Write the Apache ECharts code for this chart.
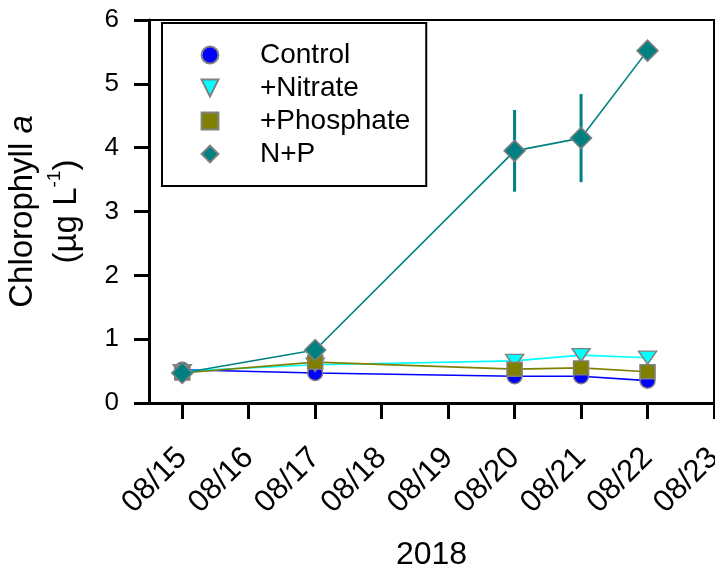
<!DOCTYPE html>
<html><head><meta charset="utf-8">
<script src="https://cdn.jsdelivr.net/npm/echarts@6/dist/echarts.min.js"></script>
<style>html,body{margin:0;padding:0;background:#fff}#c{width:715px;height:573px}</style>
</head><body><div id="c"></div>
<script>
const dates = ['08/15', '08/17', '08/20', '08/21', '08/22'];
const tickLabels = ['08/15', '08/16', '08/17', '08/18', '08/19', '08/20', '08/21', '08/22', '08/23'];
const yTicks = [0, 1, 2, 3, 4, 5, 6];
const control = [0.52, 0.47, 0.42, 0.42, 0.35];
const nitrate = [0.50, 0.60, 0.66, 0.75, 0.71];
const phosphate = [0.47, 0.64, 0.53, 0.55, 0.49];
const np = [0.47, 0.83, 3.95, 4.15, 5.52];
const npErr = [0, 0, 0.64, 0.69, 0];

const FONT = '"Liberation Sans", Arial, sans-serif';
const dayIdx = d => parseInt(d.split('/')[1], 10) - 15;
const tickIdx = tickLabels.map(dayIdx);
const pts = arr => dates.map((d, i) => [dayIdx(d), arr[i]]);
const GRAY = '#808080';

const chart = echarts.init(document.getElementById('c'), null, {renderer: 'canvas'});
function mk(name, arr, color, symbol, size) {
  return {
    name, type: 'line', data: pts(arr), symbol, symbolSize: size,
    lineStyle: {color, width: 1.6},
    itemStyle: {color, borderColor: GRAY, borderWidth: 1.5},
    emphasis: {disabled: true}, animation: false
  };
}
const option = {
  animation: false,
  grid: {left: 149, top: 20, right: 1, bottom: 170, show: true, borderColor: '#000', borderWidth: 2,
    containLabel: false, outerBoundsMode: 'none'},
  legend: {
    orient: 'vertical', left: 162, top: 23,
    padding: [18, 16, 18, 3],
    borderColor: '#000', borderWidth: 2,
    itemWidth: 90, itemHeight: 21, itemGap: 5,
    lineStyle: {width: 0},
    textStyle: {fontFamily: FONT, fontSize: 28, color: '#000'},
    data: ['Control', '+Nitrate', '+Phosphate', 'N+P']
  },
  xAxis: {
    type: 'value', min: -0.5, max: 8,
    name: '2018', nameLocation: 'middle', nameGap: 136,
    nameTextStyle: {fontFamily: FONT, fontSize: 32, color: '#000'},
    axisLine: {onZero: false, lineStyle: {color: '#000', width: 3}},
    axisTick: {customValues: tickIdx, length: 16, lineStyle: {color: '#000', width: 3}},
    axisLabel: {customValues: tickIdx, rotate: 45, margin: 50, fontFamily: FONT, fontSize: 31, color: '#000',
      formatter: v => tickLabels[tickIdx.indexOf(Math.round(v))] || ''},
    splitLine: {show: false}
  },
  yAxis: {
    type: 'value', min: 0, max: 6, interval: 1,
    name: '{t|Chlorophyll }{i|a}\n{t|(µg L}{s|-1}{t|)}',
    nameLocation: 'middle', nameRotate: 90, nameGap: 60,
    nameTextStyle: {fontFamily: FONT, fontSize: 33, color: '#000', lineHeight: 44,
      rich: {
        t: {fontFamily: FONT, fontSize: 33, color: '#000', lineHeight: 44},
        i: {fontFamily: FONT, fontSize: 33, color: '#000', fontStyle: 'italic', lineHeight: 44},
        s: {fontFamily: FONT, fontSize: 19, color: '#000', verticalAlign: 'top', lineHeight: 30}
      }},
    axisLine: {show: true, onZero: false, lineStyle: {color: '#000', width: 3}},
    axisTick: {length: 15, lineStyle: {color: '#000', width: 3}},
    axisLabel: {margin: 30, fontFamily: FONT, fontSize: 26, color: '#000',
      formatter: v => String(yTicks[yTicks.indexOf(v)])},
    splitLine: {show: false}
  },
  series: [
    mk('Control', control, '#0000ff', 'circle', 15),
    mk('+Nitrate', nitrate, '#00ffff', 'path://M0,0L20,0L10,13Z', [18, 13]),
    mk('+Phosphate', phosphate, '#808000', 'rect', [15, 14]),
    {
      type: 'custom', name: 'err', animation: false, silent: true,
      data: dates.map((d, i) => [dayIdx(d), np[i] - npErr[i], np[i] + npErr[i]]).filter((r, i) => npErr[i] > 0),
      renderItem: (params, api) => {
        const a = api.coord([api.value(0), api.value(1)]);
        const b = api.coord([api.value(0), api.value(2)]);
        return {type: 'line', shape: {x1: a[0], y1: a[1], x2: b[0], y2: b[1]}, style: {stroke: '#008080', lineWidth: 3}};
      }
    },
    mk('N+P', np, '#008080', 'diamond', 21)
  ]
};
chart.setOption(option);
</script>
</body></html>
